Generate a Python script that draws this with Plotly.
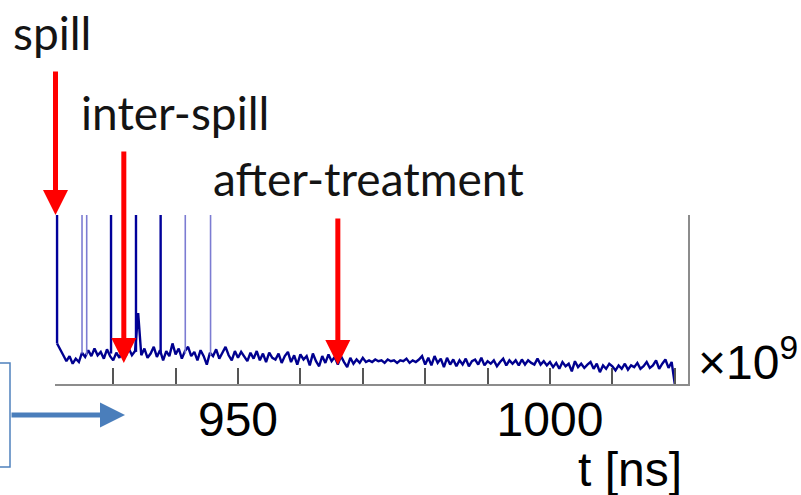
import plotly.graph_objects as go

# ---------------- data ----------------
t_start = 921.0
t_step = 0.5
signal = [
    24, 20, 17, 13.5, 16.5, 12, 15, 13, 18.5, 16,
    20, 16.5, 21, 17, 19, 15, 20.5, 16.5, 14, 18.5,
    15.5, 20, 16.5, 21, 17, 19.5, 42, 17, 21, 15.5,
    18, 22, 16, 20, 14, 19.5, 16.5, 24, 17.5, 21,
    15, 19.5, 22, 16.5, 19, 14, 20, 16.5, 11.5, 18.5,
    16.5, 20.5, 15, 18.5, 22, 17, 14, 19.5, 15.5, 19,
    16.5, 13.5, 18.5, 15, 19.5, 14, 18, 13, 18.5, 15.5,
    14.5, 18, 12.5, 16.5, 19, 13, 17, 11.5, 17.5, 14.5,
    16.5, 11, 18, 13.5, 10.5, 16.5, 12.5, 17.5, 13.5, 16,
    11.5, 16.5, 13, 10, 15.5, 12, 14.5, 12.5, 15.5, 13,
    14, 13, 14.5, 13.5, 14, 12.5, 14.5, 13.5, 14, 12.5,
    14, 13.5, 15, 12.5, 14, 13, 14.5, 16.5, 11.5, 15.5,
    11, 16.5, 12.5, 15, 10, 15.5, 11.5, 14.5, 10.5, 14,
    11.5, 15, 10.5, 13.5, 14.5, 11.5, 15.5, 11, 13.5, 12,
    14, 10.5, 13, 15, 11, 14, 12, 14, 11, 14.5,
    11.5, 14, 12.5, 11.5, 15, 11.5, 13.5, 11, 13, 10,
    12.5, 9, 13, 10.5, 12, 7.5, 13.5, 10, 12, 9.5,
    11.5, 13, 9, 12, 7, 11, 9, 12, 10.5, 8,
    11, 9, 12, 8.5, 11, 10, 12.5, 9, 10.5, 13,
    9.5, 11, 14, 9, 12, 14.5, 9.5, 13, 0,
]
t_values = [t_start + t_step * i for i in range(len(signal))]

# vertical events (spikes), strong and faint
spike_t_strong = [921.0, 929.65, 933.65, 937.6]
spike_base_strong = [24, 18, 19, 18]
spike_t_faint = [925.0, 925.75, 941.55, 945.6]
spike_base_faint = [18, 17, 18, 17]
spike_peak = 100

x_range = [920.67, 1022.12]
y_range = [0, 100]
tick_vals = [930, 940, 950, 960, 970, 980, 990, 1000, 1010, 1020]
tick_text = ["", "", "950", "", "", "", "", "1000", "", ""]

# annotated event positions (t in ns, arrow tip value)
arrow_labels = ["spill", "inter-spill", "after-treatment"]
arrow_t = [920.75, 931.7, 966.0]
arrow_tip = [100, 12.4, 11.2]

# ---------------- layout geometry ----------------
W, H = 801, 495
ML, MR, MT, MB = 55, 113, 215, 111
PW, PH = W - ML - MR, H - MT - MB


def px(x):
    return (x - ML) / PW


def py(y):
    return (H - MB - y) / PH


def spikes(ts, bases, peak):
    xs, ys = [], []
    for t, b in zip(ts, bases):
        xs += [t, t, None]
        ys += [b, peak, None]
    return xs, ys


fig = go.Figure()
fig.add_trace(go.Scatter(x=t_values, y=signal, mode="lines",
                         line=dict(color="#00008f", width=2.4),
                         hoverinfo="skip", showlegend=False))
sx, sy = spikes(spike_t_faint, spike_base_faint, spike_peak)
fig.add_trace(go.Scatter(x=sx, y=sy, mode="lines",
                         line=dict(color="#7c7cd2", width=1.6),
                         showlegend=False, hoverinfo="skip"))
sx, sy = spikes(spike_t_strong, spike_base_strong, spike_peak)
fig.add_trace(go.Scatter(x=sx, y=sy, mode="lines",
                         line=dict(color="#00009a", width=2.4),
                         showlegend=False, hoverinfo="skip"))

annotations = []
# red arrows
arrow_tail_px = [-145, -213, -148]
for t, tip, ay in zip(arrow_t, arrow_tip, arrow_tail_px):
    annotations.append(dict(x=t, y=tip, xref="x", yref="y", text="",
                            showarrow=True, ax=0, ay=ay, axref="pixel", ayref="pixel",
                            arrowhead=2, arrowsize=1, arrowwidth=5,
                            arrowcolor="#ff0000"))
# labels
label_pos = [(12, 33), (80, 112), (212, 178)]
for txt, (lx, ly) in zip(arrow_labels, label_pos):
    annotations.append(dict(x=px(lx), y=py(ly), xref="paper", yref="paper",
                            text=txt, showarrow=False, xanchor="left", yanchor="middle",
                            borderpad=0,
                            font=dict(family="Lato, Carlito, sans-serif", size=46,
                                      color="#141414")))
# blue arrow
annotations.append(dict(x=px(125), y=py(415), xref="paper", yref="paper", text="",
                        showarrow=True, ax=-115, ay=0, axref="pixel", ayref="pixel",
                        arrowhead=2, arrowsize=1, arrowwidth=5, arrowcolor="#4a7ebb"))
# axis title and exponent
annotations.append(dict(x=px(577), y=py(469), xref="paper", yref="paper",
                        text="t [ns]", showarrow=False, xanchor="left", yanchor="middle",
                        borderpad=0,
                        font=dict(family="Liberation Sans, Arial", size=48, color="black")))
annotations.append(dict(x=px(697), y=py(390), xref="paper", yref="paper",
                        text="×10<sup>9</sup>", showarrow=False, xanchor="left",
                        yanchor="bottom", borderpad=0,
                        font=dict(family="Liberation Sans, Arial", size=48, color="black")))

shapes = [dict(type="rect", xref="paper", yref="paper",
               x0=px(-10), x1=px(10), y0=py(467), y1=py(363),
               line=dict(color="#4f81bd", width=1.5), fillcolor="rgba(0,0,0,0)")]

fig.update_layout(
    width=W, height=H,
    margin=dict(l=ML, r=MR, t=MT, b=MB, pad=0),
    paper_bgcolor="white", plot_bgcolor="white",
    showlegend=False,
    xaxis=dict(range=x_range, tickvals=tick_vals, ticktext=tick_text,
               ticks="inside", ticklen=16, tickwidth=1.5, tickcolor="#555",
               ticklabelstandoff=-8,
               showline=True, linecolor="#8c8c8c", linewidth=2,
               showgrid=False, zeroline=False,
               tickfont=dict(family="Liberation Sans, Arial", size=48, color="black")),
    yaxis=dict(range=y_range, side="right", showline=True, linecolor="#8c8c8c",
               linewidth=2, showticklabels=False, ticks="", showgrid=False,
               zeroline=False),
    annotations=annotations,
    shapes=shapes,
)

fig.write_html("out.html")
